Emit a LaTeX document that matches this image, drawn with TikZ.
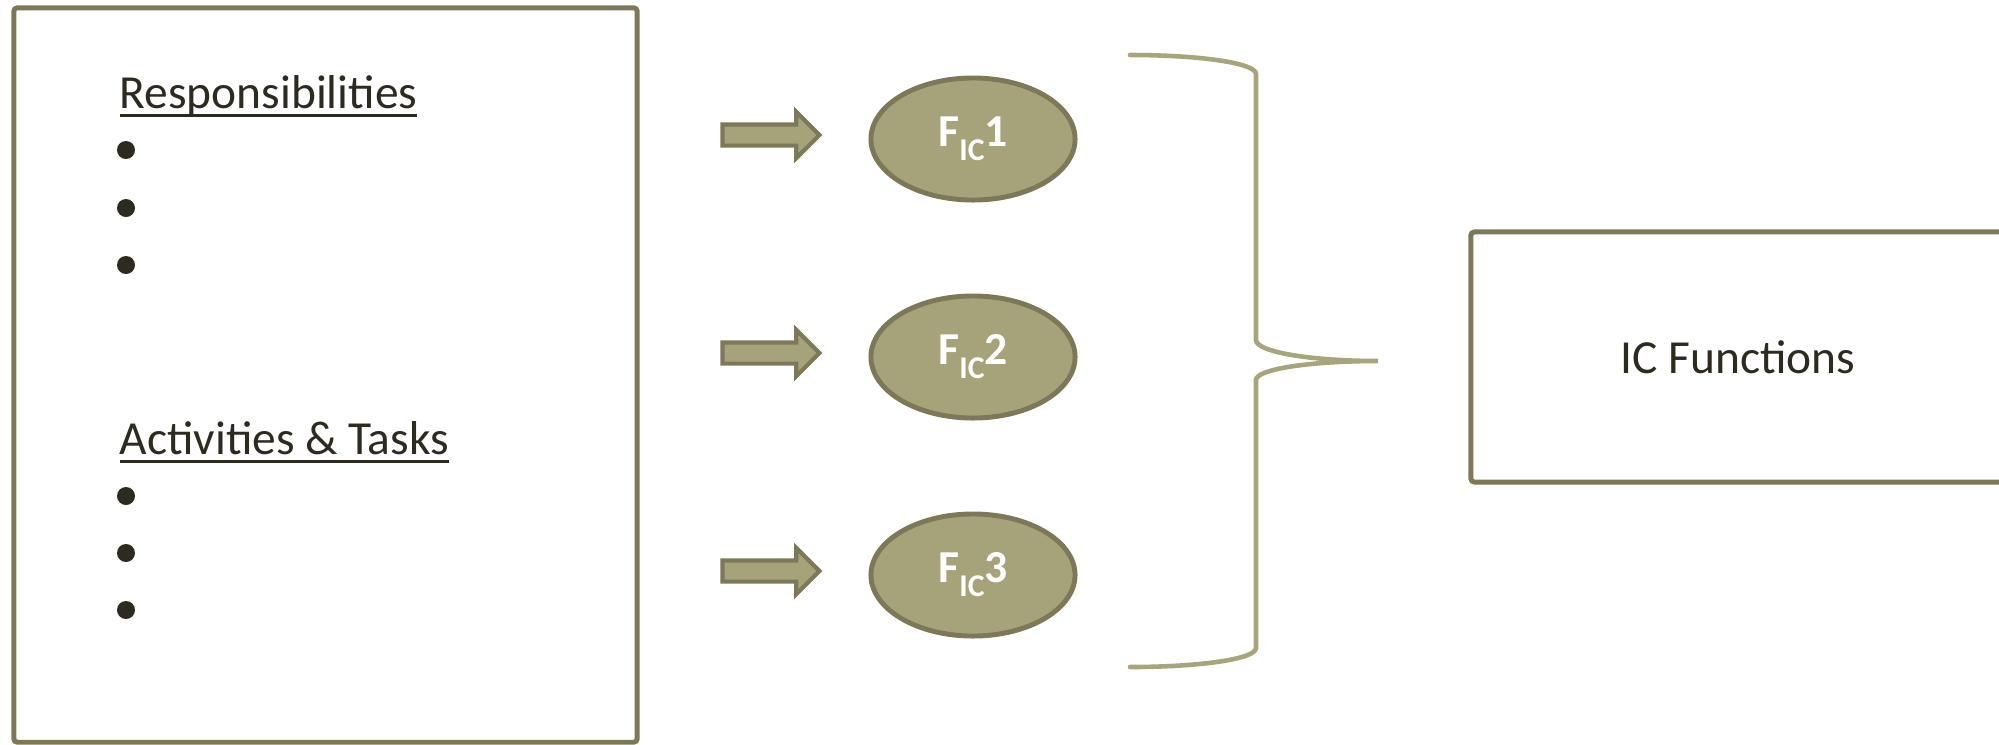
\documentclass[tikz,border=0pt]{standalone}
\usepackage{fontspec}
\setmainfont{Carlito}
\usetikzlibrary{positioning,shapes.geometric,shapes.arrows}
\definecolor{olivedraw}{RGB}{124,120,88}
\definecolor{olivefill}{RGB}{166,162,122}
\definecolor{bracecol}{RGB}{168,164,123}
\definecolor{inktext}{RGB}{45,42,32}
\newcommand{\ulhead}[1]{\setbox0\hbox{#1}\rlap{\rule[-2.5pt]{\wd0}{0.9pt}}\box0}
\newcommand{\ficlabel}[1]{F\raisebox{-4pt}{\fontsize{9}{9}\selectfont IC}#1}

\begin{document}
\begin{tikzpicture}[x=0.01cm,y=-0.01cm,
  txt/.style={font=\fontsize{13.5}{16}\selectfont,text=inktext,inner sep=0},
  dot/.style={circle,fill=inktext,inner sep=0,minimum size=0.18cm},
  panel/.style={draw=olivedraw,line width=1.4pt,rounded corners=1pt,inner sep=0},
  fic/.style={ellipse,draw=olivedraw,fill=olivefill,line width=1.4pt,minimum width=2.04cm,minimum height=1.22cm,inner sep=0,text=white,font=\fontsize{13}{15}\selectfont\bfseries},
  blockarrow/.style={single arrow,draw=olivedraw,fill=olivefill,line width=1.2pt,minimum height=0.97cm,single arrow head extend=0.125cm,inner xsep=0,inner ysep=0.085cm,yshift=0.04cm},
  bracepath/.style={draw=bracecol,line width=1.3pt,line cap=round}]
\useasboundingbox (0,0) rectangle (1999,744);
\node[panel,minimum width=6.23cm,minimum height=7.34cm] (left) at (325.5,375) {};
\node[txt,anchor=base west] (resp) at (119,108) {\ulhead{Responsibilities}};
\node[dot] (r1) at (126,150) {};
\node[dot] (r2) at (126,208) {};
\node[dot] (r3) at (126,265) {};
\node[txt,anchor=base west] (acts) at (119,454) {\ulhead{Activities \& Tasks}};
\node[dot] (a1) at (126,496) {};
\node[dot] (a2) at (126,553) {};
\node[dot] (a3) at (126,610) {};
\node[fic] (f1) at (973,139) {\ficlabel{1}};
\node[fic] (f2) at (973,357) {\ficlabel{2}};
\node[fic] (f3) at (973,575) {\ficlabel{3}};
\node[blockarrow,left=0.46cm of f1] (ar1) {};
\node[blockarrow,left=0.46cm of f2] (ar2) {};
\node[blockarrow,left=0.46cm of f3] (ar3) {};
\coordinate (btop) at (1130,55);
\coordinate (btip) at (1378,361);
\coordinate (bbot) at (1130,667);
\draw[bracepath] (btop) .. controls (1200,55) and (1256,63) .. (1256,74)
  -- (1256,340) .. controls (1256,352) and (1311,361) .. (btip)
  .. controls (1311,361) and (1256,369) .. (1256,380)
  -- (1256,648) .. controls (1256,659) and (1200,667) .. (bbot);
\node[panel,minimum width=5.34cm,minimum height=2.5cm,txt] (icf) at (1738,357) {IC Functions};
\end{tikzpicture}
\end{document}
